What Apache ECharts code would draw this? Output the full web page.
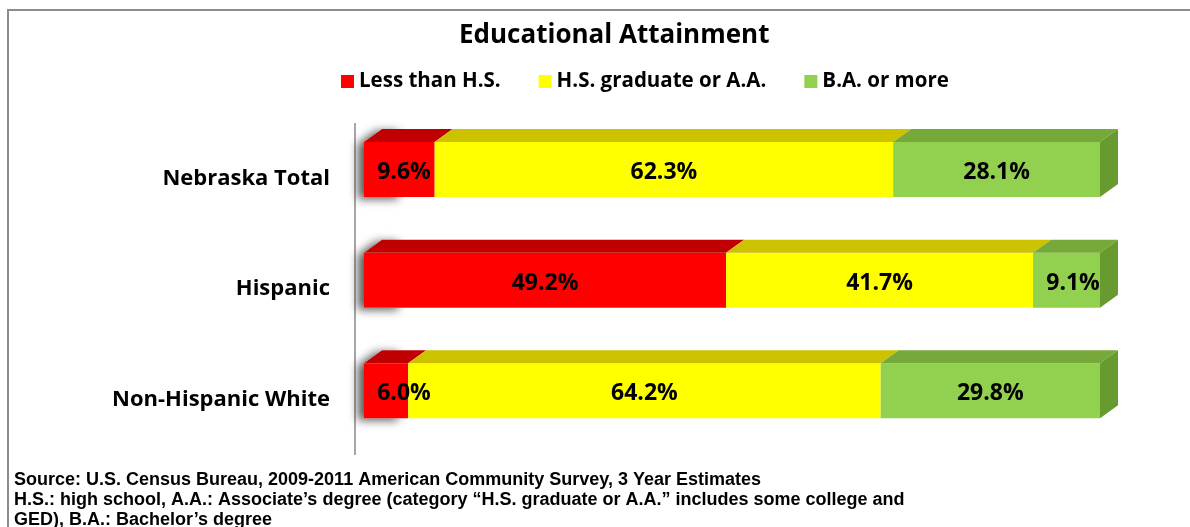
<!DOCTYPE html>
<html>
<head>
<meta charset="utf-8">
<title>Educational Attainment</title>
<script src="https://cdn.jsdelivr.net/npm/echarts@6/dist/echarts.min.js"></script>
<style>
  html, body { margin: 0; padding: 0; background: #fff; }
  #chart { width: 1190px; height: 527px; }
</style>
</head>
<body>
<div id="chart"></div>
<script>
// Groups shown on the category axis, top to bottom
const categories = ['Nebraska Total', 'Hispanic', 'Non-Hispanic White'];

// Share of adults (%) by highest level of education
const lessThanHS = [9.6, 49.2, 6.0];
const hsGraduate = [62.3, 41.7, 64.2];
const baOrMore   = [28.1, 9.1, 29.8];

const seriesNames = ['Less than H.S.', 'H.S. graduate or A.A.', 'B.A. or more'];
const seriesValues = [lessThanHS, hsGraduate, baOrMore];

const footnotes = [
  'Source: U.S. Census Bureau, 2009-2011 American Community Survey, 3 Year Estimates',
  'H.S.: high school, A.A.: Associate\u2019s degree (category \u201cH.S. graduate or A.A.\u201d includes some college and',
  'GED), B.A.: Bachelor\u2019s degree'
];

// Face colours for each segment: front, top, right side
const faces = [
  { front: '#FF0000', top: '#C00000', side: '#A00000' },
  { front: '#FFFF00', top: '#CCC200', side: '#AAA000' },
  { front: '#92D050', top: '#76A93A', side: '#679A2F' }
];

const SANS = '"Open Sans", Lato, "DejaVu Sans", sans-serif';
const DEPTH_X = 18, DEPTH_Y = 13;

// Build [start, end, categoryIndex, value] rows so each segment stacks on the previous one
function stackedRows(k) {
  return categories.map((c, i) => {
    let start = 0;
    for (let j = 0; j < k; j++) start += seriesValues[j][i];
    return [start, start + seriesValues[k][i], i, seriesValues[k][i]];
  });
}

function makeRenderer(k) {
  const isFirst = k === 0;
  const isLast = k === seriesValues.length - 1;
  const col = faces[k];
  return function (params, api) {
    const s = api.value(0), e = api.value(1), c = api.value(2), v = api.value(3);
    const p0 = api.coord([s, c]);
    const p1 = api.coord([e, c]);
    const band = api.size([0, 1])[1];
    const h = band * 0.497;
    const cy = p0[1] - band * 0.08;
    const x0 = p0[0], x1 = p1[0];
    const y0 = cy - h / 2, y1 = cy + h / 2;
    const children = [];

    if (isFirst) {
      // soft shadow along the left end of the bar
      children.push({
        type: 'polygon',
        z2: 0,
        shape: { points: [[x0, y1], [x0, y0], [x0 + DEPTH_X, y0 - DEPTH_Y], [x0 + 40, y0 - DEPTH_Y], [x0 + 40, y1]] },
        style: { fill: '#fff', shadowBlur: 10, shadowColor: 'rgba(0,0,0,0.65)', shadowOffsetX: -6, shadowOffsetY: 2 }
      });
    }
    children.push({
      type: 'rect',
      z2: 1,
      shape: { x: x0, y: y0, width: x1 - x0, height: h },
      style: { fill: col.front }
    });
    children.push({
      type: 'polygon',
      z2: 1,
      shape: { points: [[x0, y0], [x1, y0], [x1 + DEPTH_X, y0 - DEPTH_Y], [x0 + DEPTH_X, y0 - DEPTH_Y]] },
      style: { fill: col.top }
    });
    if (isLast) {
      children.push({
        type: 'polygon',
        z2: 1,
        shape: { points: [[x1, y0], [x1 + DEPTH_X, y0 - DEPTH_Y], [x1 + DEPTH_X, y1 - DEPTH_Y], [x1, y1]] },
        style: { fill: col.side }
      });
    }
    // value label, kept inside the bar's left end for narrow segments
    const lx = Math.max((x0 + x1) / 2, x0 + 40);
    children.push({
      type: 'text',
      z2: 100,
      style: {
        text: v.toFixed(1) + '%',
        x: lx, y: cy + 3,
        align: 'center', verticalAlign: 'middle',
        fontFamily: SANS, fontWeight: 'bold', fontSize: 23, fill: '#000'
      }
    });
    return { type: 'group', children: children };
  };
}

const chart = echarts.init(document.getElementById('chart'), null, { renderer: 'canvas' });

const series = seriesNames.map((name, k) => ({
  name: name,
  type: 'custom',
  coordinateSystem: 'cartesian2d',
  itemStyle: { color: faces[k].front },
  encode: { x: [0, 1], y: 2 },
  data: stackedRows(k),
  renderItem: makeRenderer(k),
  z: 2
}));

chart.setOption({
  animation: false,
  backgroundColor: '#fff',
  title: {
    text: 'Educational Attainment',
    left: 454,
    top: 18,
    textStyle: { fontFamily: SANS, fontWeight: 'bold', fontSize: 26, color: '#000' }
  },
  legend: {
    top: 66,
    left: 336,
    icon: 'rect',
    itemWidth: 13,
    itemHeight: 13,
    itemGap: 38,
    data: seriesNames,
    textStyle: { fontFamily: SANS, fontWeight: 'bold', fontSize: 20.5, color: '#000', padding: [0, 0, 0, 0] }
  },
  grid: { left: 364, right: 90, top: 123, bottom: 72 },
  xAxis: {
    type: 'value',
    min: 0,
    max: 100,
    show: false
  },
  yAxis: {
    type: 'category',
    inverse: true,
    data: categories,
    axisLine: { show: false },
    axisTick: { show: false },
    axisLabel: { margin: 34, fontFamily: SANS, fontWeight: 'bold', fontSize: 22, color: '#000' }
  },
  graphic: [
    {
      type: 'rect',
      shape: { x: 8, y: 10, width: 1200, height: 600 },
      style: { fill: 'none', stroke: '#8C8C8C', lineWidth: 2 },
      z: 0
    },
    {
      // vertical category axis line, set just left of the bars
      type: 'line',
      shape: { x1: 355, y1: 123, x2: 355, y2: 455 },
      style: { stroke: '#A6A6A6', lineWidth: 2 },
      z: 1
    }
  ].concat(footnotes.map((t, i) => ({
    type: 'text',
    left: 14,
    top: 471 + i * 20,
    style: {
      text: t,
      fontFamily: '"Liberation Sans", Arial, sans-serif',
      fontWeight: 'bold',
      fontSize: 18,
      fill: '#000'
    },
    z: 10
  }))),
  series: series
});
</script>
</body>
</html>
